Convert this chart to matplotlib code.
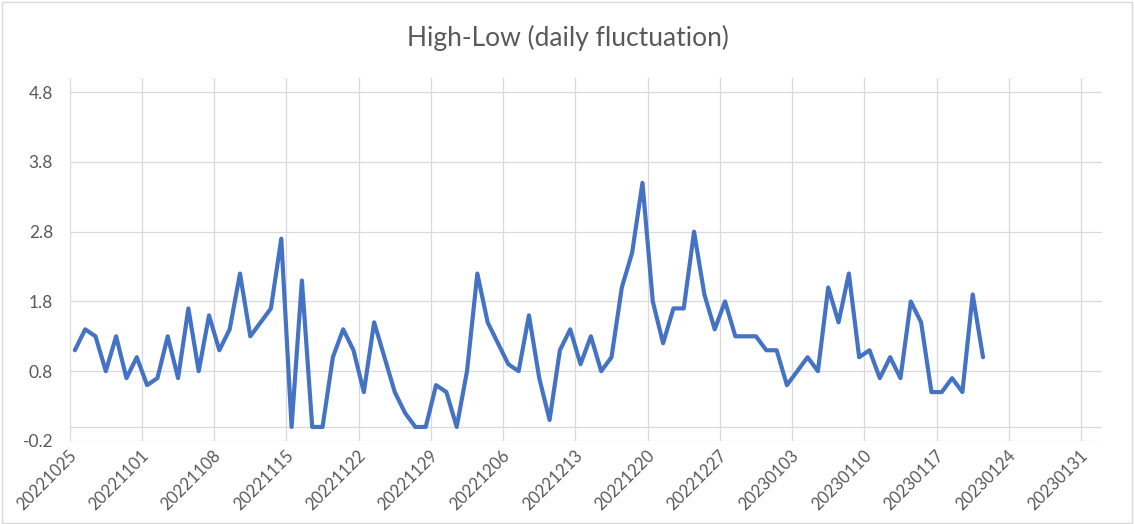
import matplotlib
matplotlib.use('Agg')
import matplotlib.pyplot as plt
import matplotlib.dates as mdates
import matplotlib.transforms as mtransforms
from matplotlib.patches import Rectangle
import pandas as pd
import numpy as np

# daily high-low values, starting 2022-10-25
start_date = '2022-10-25'
fluctuation = [1.1, 1.4, 1.3, 0.8, 1.3, 0.7, 1.0, 0.6, 0.7, 1.3,
               0.7, 1.7, 0.8, 1.6, 1.1, 1.4, 2.2, 1.3, 1.5, 1.7,
               2.7, 0.0, 2.1, 0.0, 0.0, 1.0, 1.4, 1.1, 0.5, 1.5,
               1.0, 0.5, 0.2, 0.0, 0.0, 0.6, 0.5, 0.0, 0.8, 2.2,
               1.5, 1.2, 0.9, 0.8, 1.6, 0.7, 0.1, 1.1, 1.4, 0.9,
               1.3, 0.8, 1.0, 2.0, 2.5, 3.5, 1.8, 1.2, 1.7, 1.7,
               2.8, 1.9, 1.4, 1.8, 1.3, 1.3, 1.3, 1.1, 1.1, 0.6,
               0.8, 1.0, 0.8, 2.0, 1.5, 2.2, 1.0, 1.1, 0.7, 1.0,
               0.7, 1.8, 1.5, 0.5, 0.5, 0.7, 0.5, 1.9, 1.0]
tick_labels = ['20221025', '20221101', '20221108', '20221115', '20221122',
               '20221129', '20221206', '20221213', '20221220', '20221227',
               '20230103', '20230110', '20230117', '20230124', '20230131']
y_ticks = [-0.2, 0.8, 1.8, 2.8, 3.8, 4.8]

dates = pd.date_range(start_date, periods=len(fluctuation), freq='D')
# excel date axis puts each point in the middle of its day
xpos = mdates.date2num(dates) + 0.5
tick_pos = mdates.date2num(pd.to_datetime(tick_labels, format='%Y%m%d'))

grey = '#595959'
gridc = '#D9D9D9'
plt.rcParams['font.family'] = ['Lato', 'DejaVu Sans']

W, H = 1135, 524
fig = plt.figure(figsize=(W / 100, H / 100), dpi=100)
ax = fig.add_axes([69.7 / W, (H - 440.9) / H, (1101.7 - 69.7) / W, (440.9 - 78.3) / H])

ax.plot(xpos, fluctuation, color='#4472C4', lw=3.0,
        solid_joinstyle='round', solid_capstyle='round', zorder=3)

ax.set_xlim(tick_pos[0], tick_pos[0] + 100)
ax.set_ylim(-0.2, 5.0)
ax.set_yticks(y_ticks)
ax.set_yticklabels(['%.1f' % v for v in y_ticks])
ax.set_xticks(tick_pos)
ax.set_xticklabels(tick_labels, rotation=45, ha='right', va='top')

ax.grid(True, color=gridc, lw=0.9)
ax.axhline(0, color=gridc, lw=0.9, zorder=1)
ax.set_axisbelow(True)
for s in ax.spines.values():
    s.set_visible(False)
ax.tick_params(axis='both', length=0, labelcolor=grey)
ax.tick_params(axis='y', pad=12, labelsize=12.5)
ax.tick_params(axis='x', pad=5, labelsize=12)

shift = mtransforms.ScaledTranslation(10 / 100, 0, fig.dpi_scale_trans)
for lbl in ax.get_xticklabels():
    lbl.set_transform(lbl.get_transform() + shift)

fig.text(0.5, 1 - 38 / H, 'High-Low (daily fluctuation)', ha='center', va='center',
         fontsize=19, color=grey)

fig.patches.append(Rectangle((1.5 / W, 1.5 / H), (W - 4.5) / W, (H - 3.5) / H,
                             transform=fig.transFigure, fill=False, edgecolor=gridc, lw=1))

fig.savefig('out.png', dpi=100)
